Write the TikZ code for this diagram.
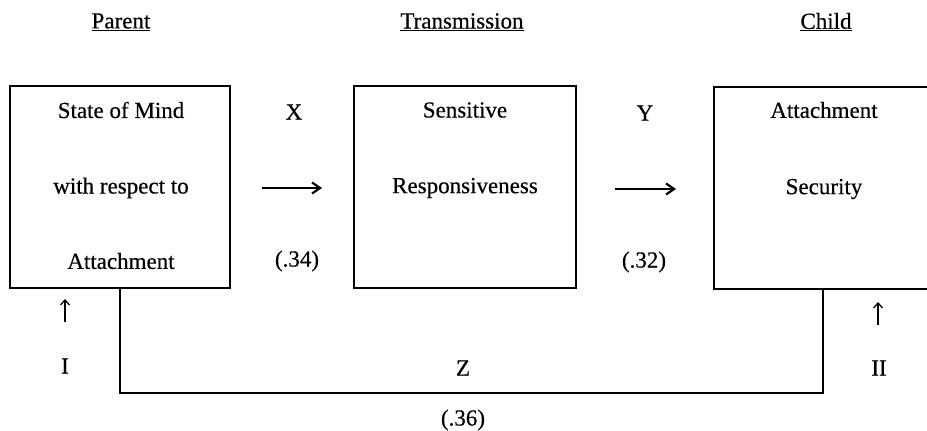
\documentclass[tikz,border=0pt]{standalone}
\usepackage{fontspec}
\setmainfont{Liberation Serif}[FakeBold=0.4]
\usetikzlibrary{arrows.meta}
\begin{document}
\begin{tikzpicture}[x=1pt,y=-1pt,
  lbl/.style={inner sep=0pt,font=\fontsize{23}{26}\selectfont},
  boxnode/.style={draw,line width=1.4pt,inner sep=0pt},
  conn/.style={line width=1.4pt},
  harrow/.style={line width=1.2pt,-{Straight Barb[length=8pt,width=11pt,line width=2.2pt]}},
  uarrow/.style={line width=1.2pt,-{Straight Barb[length=5pt,width=9pt,line width=1.3pt]}}]
\useasboundingbox (0,0) rectangle (927,431);
\begin{scope}
\clip (0,0) rectangle (927,431);
% titles
\node[lbl] (tp) at (121,22) {\underline{Parent}};
\node[lbl] (tt) at (462,22) {\underline{Transmission}};
\node[lbl] (tc) at (826,22) {\underline{Child}};
% boxes
\node[boxnode,minimum width=220pt,minimum height=202pt] (b1) at (120,187) {};
\node[boxnode,minimum width=222pt,minimum height=202pt] (b2) at (465,187) {};
\node[boxnode,minimum width=222pt,minimum height=202pt] (b3) at (825,188) {};
% box texts
\node[lbl] (b1a) at (121,110) {State of Mind};
\node[lbl] (b1b) at (121,188) {with respect to};
\node[lbl] (b1c) at (121,261) {Attachment};
\node[lbl] (b2a) at (465,110) {Sensitive};
\node[lbl] (b2b) at (465,188) {Responsiveness};
\node[lbl] (b3a) at (824,110) {Attachment};
\node[lbl] (b3b) at (824,189) {Security};
% path labels
\node[lbl] (lx) at (294,112) {X};
\node[lbl] (ly) at (645,113) {Y};
\node[lbl] (px) at (297,261) {(.34)};
\node[lbl] (py) at (644,262) {(.32)};
\node[lbl] (lz) at (463,368) {Z};
\node[lbl] (pz) at (463,420) {(.36)};
\node[lbl] (l1) at (65,366) {I};
\node[lbl] (l2) at (879,368) {II};
% arrows
\coordinate (xa) at (262,188);
\coordinate (xb) at (322,188);
\coordinate (ya) at (615,189);
\coordinate (yb) at (676,189);
\draw[harrow] (xa) -- (xb);
\draw[harrow] (ya) -- (yb);
\coordinate (u1a) at (65,322);
\coordinate (u1b) at (65,299);
\coordinate (u2a) at (878,325);
\coordinate (u2b) at (878,302);
\draw[uarrow] (u1a) -- (u1b);
\draw[uarrow] (u2a) -- (u2b);
% Z connector
\coordinate (zr) at (823,393);
\draw[conn] (b1.south) |- (zr) -- (zr |- b3.south);
\end{scope}
\end{tikzpicture}
\end{document}
